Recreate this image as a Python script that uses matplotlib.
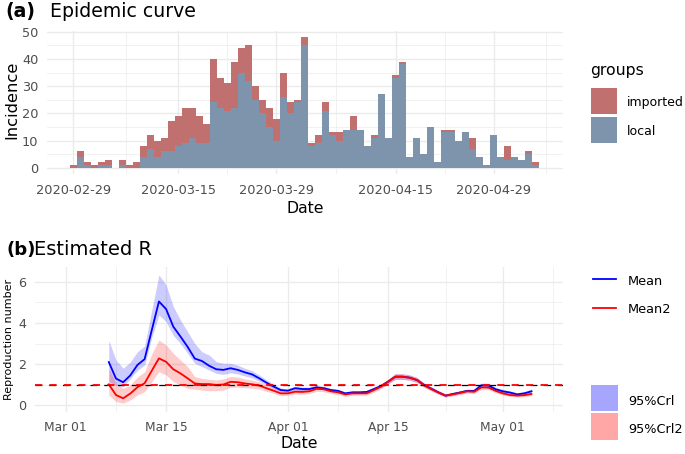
import numpy as np
import pandas as pd
import matplotlib
matplotlib.use('Agg')
import matplotlib.pyplot as plt
import matplotlib.dates as mdates
from matplotlib.patches import Rectangle
from matplotlib.lines import Line2D

plt.rcParams['font.family'] = ['DejaVu Sans']

# ── Panel (a): daily incidence ────────────────────────────────────────────────
days_a = pd.date_range('2020-02-29', '2020-05-05', freq='D')
local = [0, 4, 1, 0, 1, 1, 0, 1, 0, 0, 4, 7, 4, 6, 6, 8, 9, 11, 9, 9,
         24, 22, 21, 22, 35, 32, 25, 20, 15, 10, 26, 20, 24, 45, 8, 9, 21, 12, 10, 14,
         14, 14, 8, 11, 27, 11, 33, 38, 4, 11, 5, 15, 2, 13, 13, 10, 13, 7, 4, 1,
         12, 4, 3, 4, 3, 5, 1]
imported = [1, 2, 1, 1, 1, 2, 0, 2, 1, 2, 4, 5, 6, 5, 11, 11, 13, 11, 10, 7,
            16, 11, 10, 17, 9, 13, 5, 5, 7, 8, 9, 4, 1, 3, 1, 3, 3, 1, 3, 0,
            5, 0, 0, 1, 0, 0, 1, 1, 0, 0, 0, 0, 0, 1, 1, 0, 0, 4, 0, 0,
            0, 0, 5, 0, 0, 1, 1]
ticks_a = ['2020-02-29', '2020-03-15', '2020-03-29', '2020-04-15', '2020-04-29']

# ── Panel (b): estimated R ────────────────────────────────────────────────────
days_b = pd.date_range('2020-03-07', '2020-05-05', freq='D')
mean1 = [2.1, 1.3, 1.12, 1.45, 1.96, 2.24, 3.65, 5.04, 4.67, 3.82, 3.34, 2.84, 2.27, 2.15, 1.92,
         1.75, 1.72, 1.8, 1.72, 1.6, 1.5, 1.31, 1.1, 0.91, 0.74,
         0.71, 0.83, 0.79, 0.79, 0.87, 0.83, 0.74, 0.7, 0.58, 0.63, 0.63, 0.65, 0.79, 0.94, 1.15,
         1.39, 1.39, 1.34, 1.23, 0.99, 0.81, 0.63, 0.47, 0.55, 0.62, 0.7, 0.7, 0.97, 0.96, 0.78,
         0.68, 0.62, 0.53, 0.58, 0.68]
low1 = [1.15, 0.98, 0.9, 1.3, 1.7, 1.96, 3.3, 4.38, 4.06, 3.4, 3.0, 2.52, 2.04, 1.88, 1.71,
        1.55, 1.5, 1.58, 1.52, 1.42, 1.33, 1.17, 0.98, 0.81, 0.65,
        0.63, 0.74, 0.71, 0.71, 0.79, 0.75, 0.67, 0.63, 0.52, 0.57, 0.57, 0.59, 0.72, 0.86, 1.05,
        1.26, 1.26, 1.22, 1.12, 0.9, 0.73, 0.56, 0.41, 0.49, 0.55, 0.63, 0.63, 0.87, 0.86, 0.7,
        0.6, 0.55, 0.46, 0.5, 0.58]
high1 = [3.15, 2.2, 1.8, 2.1, 2.6, 2.88, 4.62, 6.33, 5.84, 4.8, 4.14, 3.57, 3.0, 2.6, 2.44,
         2.12, 2.04, 2.04, 1.95, 1.8, 1.68, 1.47, 1.24, 1.03, 0.84,
         0.8, 0.93, 0.88, 0.88, 0.96, 0.92, 0.82, 0.78, 0.65, 0.7, 0.7, 0.72, 0.87, 1.03, 1.26,
         1.53, 1.53, 1.47, 1.35, 1.09, 0.9, 0.71, 0.54, 0.62, 0.7, 0.78, 0.78, 1.08, 1.07, 0.87,
         0.77, 0.7, 0.61, 0.67, 0.79]
mean2 = [1.02, 0.5, 0.34, 0.57, 0.88, 1.07, 1.68, 2.28, 2.11, 1.75, 1.55, 1.31, 1.06, 1.03, 1.03,
         0.99, 1.01, 1.14, 1.12, 1.06, 1.02, 0.96, 0.83, 0.71, 0.58,
         0.58, 0.66, 0.65, 0.68, 0.8, 0.78, 0.68, 0.63, 0.53, 0.58, 0.58, 0.58, 0.74, 0.91, 1.15,
         1.39, 1.39, 1.34, 1.23, 0.97, 0.79, 0.62, 0.47, 0.53, 0.6, 0.68, 0.66, 0.87, 0.86, 0.7,
         0.58, 0.5, 0.47, 0.49, 0.55]
low2 = [0.5, 0.18, 0.1, 0.26, 0.5, 0.66, 1.15, 1.63, 1.47, 1.15, 0.98, 0.82, 0.78, 0.74, 0.71,
        0.71, 0.74, 0.87, 0.88, 0.85, 0.83, 0.79, 0.68, 0.58, 0.47,
        0.48, 0.55, 0.54, 0.57, 0.68, 0.66, 0.57, 0.53, 0.44, 0.49, 0.49, 0.49, 0.64, 0.8, 1.03,
        1.25, 1.26, 1.21, 1.1, 0.86, 0.69, 0.53, 0.39, 0.45, 0.51, 0.59, 0.57, 0.76, 0.76, 0.61,
        0.5, 0.43, 0.4, 0.42, 0.47]
high2 = [1.8, 1.07, 0.82, 0.98, 1.38, 1.62, 2.5, 3.17, 2.93, 2.52, 2.2, 1.88, 1.39, 1.31, 1.26,
         1.23, 1.28, 1.4, 1.37, 1.28, 1.22, 1.14, 0.99, 0.85, 0.7,
         0.69, 0.78, 0.77, 0.8, 0.93, 0.9, 0.8, 0.74, 0.63, 0.68, 0.68, 0.68, 0.85, 1.03, 1.28,
         1.54, 1.53, 1.48, 1.36, 1.09, 0.9, 0.72, 0.56, 0.62, 0.7, 0.78, 0.76, 0.99, 0.97, 0.8,
         0.67, 0.58, 0.55, 0.57, 0.64]
ticks_b = ['2020-03-01', '2020-03-15', '2020-04-01', '2020-04-15', '2020-05-01']
ticklabels_b = ['Mar 01', 'Mar 15', 'Apr 01', 'Apr 15', 'May 01']

C_IMP = '#C17070'
C_LOC = '#7D94AC'
GRID = '#EBEBEB'
TICK = '#4D4D4D'
W, H = 685, 454

fig = plt.figure(figsize=(6.85, 4.54), dpi=100)


def fx(px):
    return px / W


def fy(py):
    return 1 - py / H


def minimal(ax):
    for sp in ax.spines.values():
        sp.set_visible(False)
    ax.set_axisbelow(True)
    ax.grid(which='major', color=GRID, lw=1.0)
    ax.grid(which='minor', color=GRID, lw=0.5)
    ax.tick_params(which='both', length=0, colors=TICK)


def dnum(s, off=0.0):
    return mdates.date2num(pd.Timestamp(s)) + off


def key_box(x0, y0, x1, y1, color):
    fig.add_artist(Rectangle((fx(x0), fy(y1)), fx(x1) - fx(x0), fy(y0) - fy(y1),
                             transform=fig.transFigure, color=color, lw=0))


def key_line(x0, x1, y, color):
    fig.add_artist(Line2D([fx(x0), fx(x1)], [fy(y), fy(y)], transform=fig.transFigure,
                          color=color, lw=1.3))


# ── (a) ──────────────────────────────────────────────────────────────────────
ax1 = fig.add_axes([0.0682, 0.6163, 0.7537, 0.3154])
minimal(ax1)
ax1.bar(days_a, local, width=1.0, color=C_LOC, linewidth=0)
ax1.bar(days_a, imported, bottom=local, width=1.0, color=C_IMP, linewidth=0)
ax1.set_xlim(dnum('2020-02-29', -3.8), dnum('2020-02-29', 69.9))
ax1.set_ylim(-2.4, 50.3)
ax1.set_yticks(range(0, 51, 10))
ax1.set_yticks(range(5, 50, 10), minor=True)
ax1.set_xticks([dnum(t) for t in ticks_a])
ax1.set_xticklabels(ticks_a)
ax1.set_xticks([dnum('2020-03-07', 0.5), dnum('2020-03-22'), dnum('2020-04-06', 0.5),
                dnum('2020-04-22'), dnum('2020-05-06', 0.5)], minor=True)
ax1.tick_params(axis='x', labelsize=9.3, pad=7)
ax1.tick_params(axis='y', labelsize=9.3, pad=6)
ax1.set_xlabel('Date', fontsize=11.3, labelpad=3)
ax1.set_ylabel('Incidence', fontsize=11.8)
ax1.yaxis.set_label_coords(-0.052, 0.518)

fig.text(fx(5), fy(17), '(a)', fontsize=13.6, fontweight='bold', va='baseline')
fig.text(fx(50), fy(17), 'Epidemic curve', fontsize=13.6, va='baseline')

# legend (a)
fig.text(fx(590), fy(75), 'groups', fontsize=11.3, va='baseline')
key_box(590.7, 87.7, 617.3, 114, C_IMP)
key_box(590.7, 116.7, 617.3, 142.7, C_LOC)
fig.text(fx(627), fy(106), 'imported', fontsize=9.0, va='baseline')
fig.text(fx(627), fy(135), 'local', fontsize=9.0, va='baseline')

# ── (b) ──────────────────────────────────────────────────────────────────────
ax2 = fig.add_axes([0.0511, 0.0932, 0.7708, 0.3194])
minimal(ax2)
ax2.fill_between(days_b, low1, high1, color='blue', alpha=0.2, lw=0)
ax2.fill_between(days_b, low2, high2, color='red', alpha=0.2, lw=0)
ax2.plot(days_b, mean1, color='blue', lw=1.3)
ax2.plot(days_b, mean2, color='red', lw=1.3)
ax2.axhline(1, color='black', lw=0.9, dashes=(5.5, 5.5))
ax2.axhline(1, color='red', lw=1.3, dashes=(4, 4))
ax2.set_xlim(dnum('2020-03-01', -4.3), dnum('2020-03-01', 69.4))
ax2.set_ylim(-0.31, 6.73)
ax2.set_yticks([0, 2, 4, 6])
ax2.set_yticks([1, 3, 5], minor=True)
ax2.set_xticks([dnum(t) for t in ticks_b])
ax2.set_xticklabels(ticklabels_b)
ax2.set_xticks([dnum('2020-03-08'), dnum('2020-03-23', 0.5), dnum('2020-04-08'),
                dnum('2020-04-23'), dnum('2020-05-08')], minor=True)
ax2.tick_params(axis='x', labelsize=8.8, pad=7)
ax2.tick_params(axis='y', labelsize=9.2, pad=6.5)
ax2.set_xlabel('Date', fontsize=11.3, labelpad=1)
ax2.set_ylabel('Reproduction number', fontsize=8)
ax2.yaxis.set_label_coords(-0.040, 0.50)

fig.text(fx(6), fy(255), '(b)', fontsize=13, fontweight='bold', va='baseline')
fig.text(fx(34.5), fy(255), 'Estimated R', fontsize=14, va='baseline')

# legend (b)
key_line(593.3, 615.7, 279.3, 'blue')
key_line(593.3, 615.7, 307.7, 'red')
fig.text(fx(628), fy(285), 'Mean', fontsize=9.25, va='baseline')
fig.text(fx(628), fy(313.3), 'Mean2', fontsize=9.25, va='baseline')
key_box(591, 385, 617.7, 411, '#A6A6FF')
key_box(591, 413.3, 617.7, 439.7, '#FFA6A6')
fig.text(fx(628.3), fy(405), '95%Crl', fontsize=9.25, va='baseline')
fig.text(fx(628.3), fy(433.3), '95%Crl2', fontsize=9.25, va='baseline')

fig.savefig('out.png', dpi=100)
